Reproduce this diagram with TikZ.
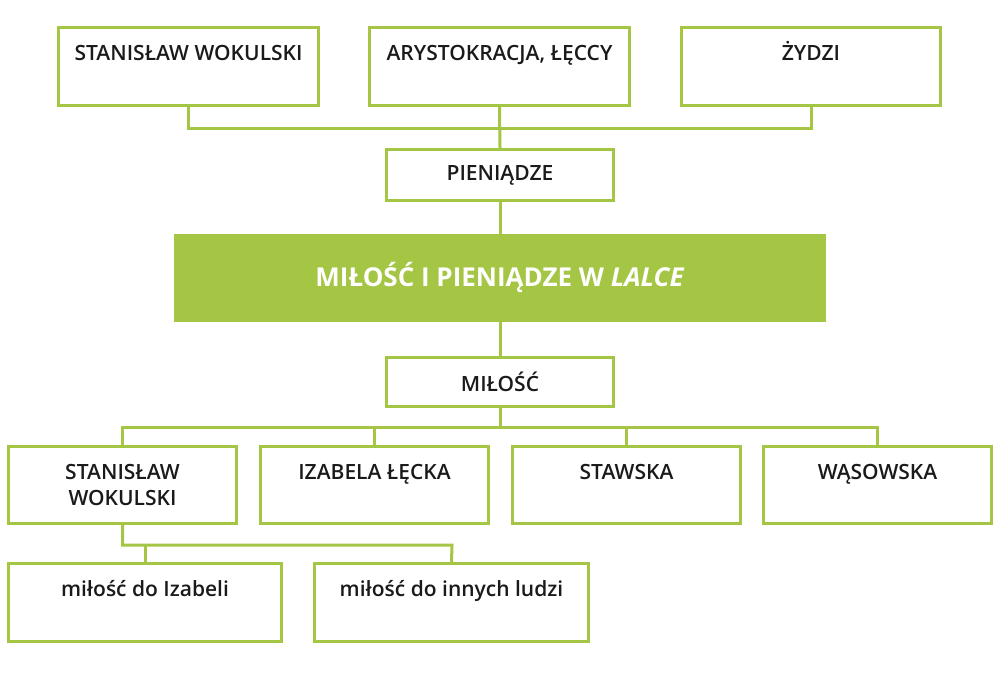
\documentclass[tikz,border=0pt]{standalone}
\usepackage{fontspec}
\setmainfont{Open Sans}
\IfFontExistsTF{Open Sans Semibold}{\newfontfamily\sbf{Open Sans Semibold}}{%
  \IfFontExistsTF{Open Sans SemiBold}{\newfontfamily\sbf{Open Sans SemiBold}}{%
    \newfontfamily\sbf{Open Sans}[FakeBold=1.2]}}
\usetikzlibrary{calc}
\definecolor{lgreen}{RGB}{164,198,68}
\definecolor{txt}{RGB}{26,26,26}
\begin{document}
\begin{tikzpicture}[x=1pt,y=-1pt,
  box/.style={draw=lgreen,line width=3pt,rectangle,inner sep=0pt},
  lbl/.style={font=\sbf\fontsize{21}{26}\selectfont,text=txt,anchor=base,align=center},
  conn/.style={draw=lgreen,line width=3pt}]
\useasboundingbox (0,0) rectangle (1000,672);
% top row
\node[box,minimum width=260pt,minimum height=78pt,
  label={[lbl,yshift=-34.5pt]north:STANISŁAW WOKULSKI}] (t1) at (188.5,66.5) {};
\node[box,minimum width=260pt,minimum height=78pt,
  label={[lbl,yshift=-34.5pt]north:ARYSTOKRACJA, ŁĘCCY}] (t2) at (499.5,66.5) {};
\node[box,minimum width=259pt,minimum height=78pt,
  label={[lbl,yshift=-34.5pt]north:ŻYDZI}] (t3) at (811,66.5) {};
\node[box,minimum width=227pt,minimum height=51pt,font=\sbf\fontsize{21}{26}\selectfont,text=txt] (pien) at (500,175) {PIENIĄDZE};
\node[fill=lgreen,minimum width=652pt,minimum height=88pt,inner sep=0pt,text=white,
  font=\fontsize{26}{30}\selectfont\bfseries] (title) at (500,278) {MIŁOŚĆ I PIENIĄDZE W \textit{LALCE}};
\node[box,minimum width=227pt,minimum height=49pt,font=\sbf\fontsize{21}{26}\selectfont,text=txt] (mil) at (500,382) {MIŁOŚĆ};
% bottom row
\node[box,minimum width=228pt,minimum height=77pt,
  label={[lbl,yshift=-60.5pt]north:STANISŁAW\\WOKULSKI}] (b1) at (122.5,485) {};
\node[box,minimum width=228pt,minimum height=77pt,
  label={[lbl,yshift=-34.5pt]north:IZABELA ŁĘCKA}] (b2) at (374.5,485) {};
\node[box,minimum width=228pt,minimum height=77pt,
  label={[lbl,yshift=-34.5pt]north:STAWSKA}] (b3) at (626.5,485) {};
\node[box,minimum width=228pt,minimum height=77pt,
  label={[lbl,yshift=-34.5pt]north:WĄSOWSKA}] (b4) at (877.5,485) {};
% sub row
\node[box,minimum width=273pt,minimum height=78pt,
  label={[lbl,yshift=-34.5pt]north:miłość do Izabeli}] (s1) at (145,602.5) {};
\node[box,minimum width=274pt,minimum height=78pt,
  label={[lbl,yshift=-34.5pt]north:miłość do innych ludzi}] (s2) at (451.5,602.5) {};
% joints
\coordinate (jt) at (499.5,128);
\coordinate (jb) at (500,427);
\coordinate (js) at (452,545);
% connectors
\draw[conn] (t1.south) |- (jt) -| (t3.south);
\draw[conn] (t2.south) -- (pien.north);
\draw[conn] (pien.south) -- (title.north);
\draw[conn] (title.south) -- (mil.north);
\draw[conn] (mil.south) -- (jb);
\draw[conn] (b1.north) |- (jb) -| (b4.north);
\draw[conn] (b2.north) -- (b2.north |- jb);
\draw[conn] (b3.north) -- (b3.north |- jb);
\draw[conn] (b1.south) |- (js) -- (s2.north);
\draw[conn] (s1.north) -- (s1.north |- js);
\end{tikzpicture}
\end{document}
